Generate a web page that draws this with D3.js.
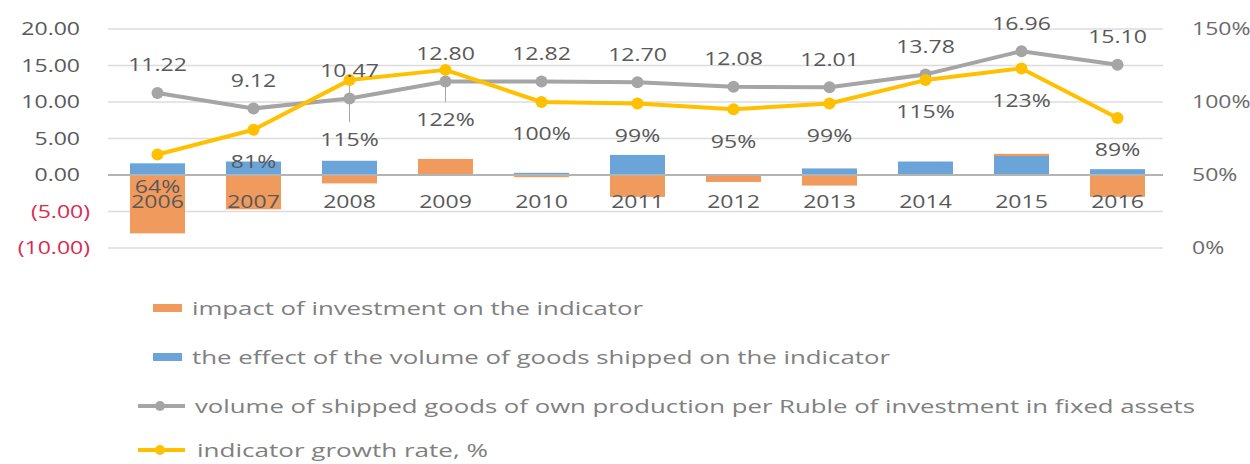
<!DOCTYPE html>
<html>
<head>
<meta charset="utf-8">
<script src="https://cdn.jsdelivr.net/npm/d3@7"></script>
<style>
  body { margin: 0; background: #fff; }
  svg text { font-family: "Open Sans", sans-serif; }
</style>
</head>
<body>
<div id="chart"></div>
<script>
// DATA
const years = ['2006', '2007', '2008', '2009', '2010', '2011', '2012', '2013', '2014', '2015', '2016'];
// bars (left axis)
const investImpact = [-8.0, -4.7, -1.15, 2.2, -0.3, -3.0, -0.95, -1.45, 0, 0.3, -3.0];
const volumeEffect = [1.6, 1.85, 1.95, 0, 0.3, 2.75, 0, 0.9, 1.85, 2.6, 0.8];
// lines
const indicator = [11.22, 9.12, 10.47, 12.80, 12.82, 12.70, 12.08, 12.01, 13.78, 16.96, 15.10];
const growthRate = [64, 81, 115, 122, 100, 99, 95, 99, 115, 123, 89];
// axes
const leftTicks = [-10, -5, 0, 5, 10, 15, 20];
const rightTicks = [0, 50, 100, 150];
const legendLabels = [
  'impact of investment on the indicator',
  'the effect of the volume of goods shipped on the indicator',
  'volume of shipped goods of own production per Ruble of investment in fixed assets',
  'indicator growth rate, %'
];

document.addEventListener('DOMContentLoaded', function(){
  drawChart();
});

function drawChart(){
  const W = 1250, H = 464;
  const colors = {
    invest: '#F19A5E',
    volume: '#6AA4D9',
    indicator: '#A5A5A5',
    growth: '#FFC000',
    text: '#595959',
    neg: '#D92B50',
    grid: '#DCDCDC'
  };
  const sx = 1.28; // the picture text is stretched horizontally

  const svg = d3.select('#chart')
                .append('svg')
                .attr('width', W)
                .attr('height', H);

  // scales
  const x = d3.scaleBand()
              .domain(years)
              .range([109.5, 1165.5])
              .paddingInner(0.427)
              .paddingOuter(0.2135);
  const yL = d3.scaleLinear().domain([-10, 20]).range([248, 29]);
  const yR = d3.scaleLinear().domain([0, 150]).range([248, 29]);
  const cx = d => x(d) + x.bandwidth() / 2;

  // gridlines
  svg.append('g')
     .selectAll('line')
     .data(leftTicks.filter(d => d !== 0))
     .enter().append('line')
       .attr('x1', 108).attr('x2', 1163)
       .attr('y1', d => yL(d)).attr('y2', d => yL(d))
       .style('stroke', colors.grid)
       .style('stroke-width', 1.3);

  // left axis
  const fmt = d3.format('.2f');
  const gLeft = svg.append('g')
                   .attr('transform', 'translate(80,0)')
                   .call(d3.axisLeft(yL).tickValues(leftTicks).tickSize(0)
                           .tickFormat(d => d < 0 ? '(' + fmt(-d) + ')' : fmt(d)));
  gLeft.select('.domain').remove();
  gLeft.selectAll('text')
       .attr('x', null)
       .attr('text-anchor', 'end')
       .attr('transform', d => `translate(${d < 0 ? 10 : 0},0) scale(${sx},1)`)
       .style('font-size', '18px')
       .style('fill', d => d < 0 ? colors.neg : colors.text);

  // right axis
  const gRight = svg.append('g')
                    .attr('transform', 'translate(1192,0)')
                    .call(d3.axisRight(yR).tickValues(rightTicks).tickSize(0).tickFormat(d => d + '%'));
  gRight.select('.domain').remove();
  gRight.selectAll('text')
        .attr('x', null)
        .attr('text-anchor', 'start')
        .attr('transform', `scale(${sx},1)`)
        .style('font-size', '18px')
        .style('fill', '#6b6b6b');

  // stacked bars
  const rows = years.map((y, i) => ({year: y, volume: volumeEffect[i], invest: investImpact[i]}));
  const series = d3.stack()
                   .keys(['volume', 'invest'])
                   .offset(d3.stackOffsetDiverging)(rows);
  svg.append('g')
     .selectAll('g')
     .data(series)
     .enter().append('g')
       .style('fill', d => colors[d.key])
     .selectAll('rect')
     .data(d => d)
     .enter().append('rect')
       .attr('x', d => x(d.data.year))
       .attr('width', x.bandwidth())
       .attr('y', d => yL(Math.max(d[0], d[1])))
       .attr('height', d => Math.abs(yL(d[0]) - yL(d[1])));

  // zero line
  svg.append('line')
     .attr('x1', 108).attr('x2', 1163)
     .attr('y1', yL(0)).attr('y2', yL(0))
     .style('stroke', '#B4B4B4')
     .style('stroke-width', 2);

  // category labels
  const gBottom = svg.append('g')
                     .attr('transform', `translate(0,${yL(0)})`)
                     .call(d3.axisBottom(x).tickSize(0).tickPadding(20));
  gBottom.select('.domain').remove();
  gBottom.selectAll('text')
         .attr('transform', `scale(${sx},1)`)
         .attr('x', 0)
         .style('font-size', '18px')
         .style('fill', colors.text);
  gBottom.selectAll('.tick')
         .attr('transform', d => `translate(${cx(d)},0)`);

  // leader lines for moved growth labels
  const pctDy = {'2008': 60, '2009': 50};
  svg.append('g')
     .selectAll('line')
     .data(years.filter(y => pctDy[y]))
     .enter().append('line')
       .attr('x1', d => cx(d)).attr('x2', d => cx(d))
       .attr('y1', d => yR(growthRate[years.indexOf(d)]))
       .attr('y2', d => yR(growthRate[years.indexOf(d)]) + pctDy[d] - 18)
       .style('stroke', '#A6A6A6')
       .style('stroke-width', 1);

  // lines
  function drawLine(values, scale, color){
    const line = d3.line()
                   .x((d, i) => cx(years[i]))
                   .y(d => scale(d));
    svg.append('path')
       .datum(values)
       .attr('d', line)
       .style('fill', 'none')
       .style('stroke', color)
       .style('stroke-width', 4)
       .style('stroke-linejoin', 'round');
    svg.append('g')
       .selectAll('circle')
       .data(values)
       .enter().append('circle')
         .attr('cx', (d, i) => cx(years[i]))
         .attr('cy', d => scale(d))
         .attr('r', 6)
         .style('fill', color);
  }
  drawLine(indicator, yL, colors.indicator);
  drawLine(growthRate, yR, colors.growth);

  // data labels
  svg.append('g')
     .selectAll('text')
     .data(indicator)
     .enter().append('text')
       .attr('transform', (d, i) => `translate(${cx(years[i])},${yL(d) - 28}) scale(${sx},1)`)
       .attr('text-anchor', 'middle')
       .attr('dy', '0.35em')
       .style('font-size', '18px')
       .style('fill', colors.text)
       .text(d => fmt(d));
  svg.append('g')
     .selectAll('text')
     .data(growthRate)
     .enter().append('text')
       .attr('transform', (d, i) => `translate(${cx(years[i])},${yR(d) + (pctDy[years[i]] || 32)}) scale(${sx},1)`)
       .attr('text-anchor', 'middle')
       .attr('dy', '0.35em')
       .style('font-size', '18px')
       .style('fill', colors.text)
       .text(d => d + '%');

  // legend
  const legendKeys = ['invest', 'volume', 'indicator', 'growth'];
  const legendY = [308, 357, 406, 450];
  const legendTextX = [192, 192, 195, 197];
  const legendEnd = [643, 890, 1195, 488];
  const legend = svg.append('g');
  legendKeys.forEach((k, i) => {
    if (i < 2){
      legend.append('rect')
            .attr('x', 153).attr('y', legendY[i] - 4)
            .attr('width', 29).attr('height', 8)
            .style('fill', colors[k]);
    } else {
      legend.append('line')
            .attr('x1', 138).attr('x2', 185)
            .attr('y1', legendY[i]).attr('y2', legendY[i])
            .style('stroke', colors[k])
            .style('stroke-width', 4);
      legend.append('circle')
            .attr('cx', 160).attr('cy', legendY[i])
            .attr('r', 5)
            .style('fill', colors[k]);
    }
    legend.append('text')
          .attr('x', legendTextX[i])
          .attr('y', legendY[i])
          .attr('dy', '0.35em')
          .attr('textLength', legendEnd[i] - legendTextX[i])
          .attr('lengthAdjust', 'spacingAndGlyphs')
          .style('font-size', '19px')
          .style('fill', '#808080')
          .text(legendLabels[i]);
  });
}
</script>
</body>
</html>
